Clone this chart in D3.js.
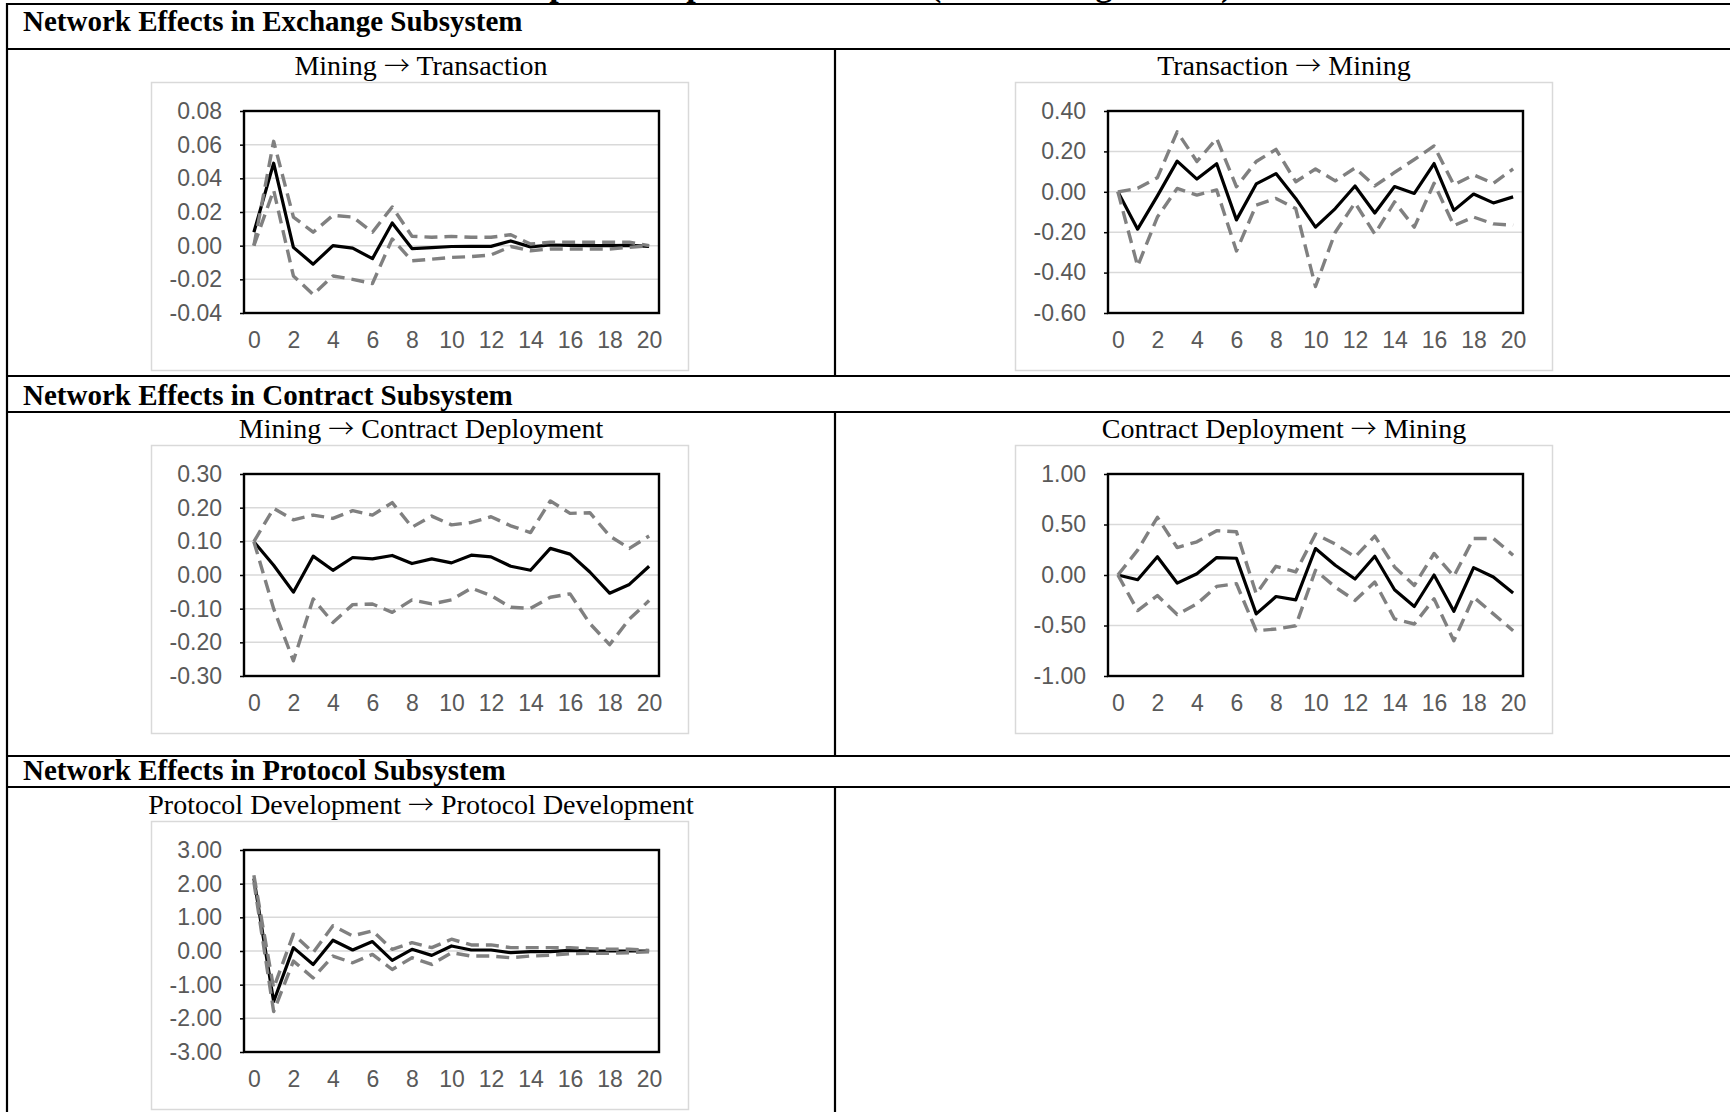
<!DOCTYPE html>
<html>
<head>
<meta charset="utf-8">
<script src="https://cdn.jsdelivr.net/npm/d3@7"></script>
<style>
  html, body { margin: 0; padding: 0; background: #fff; }
  svg { display: block; }
</style>
</head>
<body>
<svg id="fig" width="1730" height="1112"></svg>
<script>
// ---- Horizon (periods after the shock) ----
const periods = [0, 1, 2, 3, 4, 5, 6, 7, 8, 9, 10, 11, 12, 13, 14, 15, 16, 17, 18, 19, 20];
const periodTicks = [0, 2, 4, 6, 8, 10, 12, 14, 16, 18, 20];

// ---- Mining → Transaction ----
const mtxTicks  = [0.08, 0.06, 0.04, 0.02, 0, -0.02, -0.04];
const mtxLabels = ["0.08", "0.06", "0.04", "0.02", "0.00", "-0.02", "-0.04"];
const mtxIrf    = [0.008, 0.049, -0.001, -0.011, 0.000, -0.0015, -0.0077, 0.0135, -0.0017, -0.0012, -0.0005, -0.0004, -0.0004, 0.0028, -0.0007, 0.0004, 0.0002, 0.0000, 0.0000, 0.0002, -0.0004];
const mtxUpper  = [0.000, 0.062, 0.017, 0.008, 0.018, 0.017, 0.008, 0.023, 0.0056, 0.005, 0.0055, 0.005, 0.005, 0.0065, 0.001, 0.002, 0.002, 0.002, 0.002, 0.002, 0.000];
const mtxLower  = [0.000, 0.033, -0.018, -0.029, -0.018, -0.020, -0.0225, 0.004, -0.009, -0.008, -0.007, -0.0065, -0.0055, -0.0005, -0.003, -0.002, -0.002, -0.002, -0.002, -0.001, 0.000];

// ---- Transaction → Mining ----
const txmTicks  = [0.4, 0.2, 0, -0.2, -0.4, -0.6];
const txmLabels = ["0.40", "0.20", "0.00", "-0.20", "-0.40", "-0.60"];
const txmIrf    = [0.000, -0.185, -0.020, 0.152, 0.063, 0.139, -0.139, 0.039, 0.090, -0.033, -0.175, -0.083, 0.029, -0.105, 0.026, -0.008, 0.140, -0.092, -0.011, -0.055, -0.025];
const txmUpper  = [0.000, 0.017, 0.070, 0.297, 0.150, 0.264, 0.025, 0.150, 0.210, 0.050, 0.113, 0.054, 0.118, 0.029, 0.096, 0.160, 0.227, 0.034, 0.084, 0.042, 0.113];
const txmLower  = [0.000, -0.368, -0.125, 0.017, -0.016, 0.009, -0.293, -0.066, -0.033, -0.083, -0.469, -0.200, -0.055, -0.209, -0.050, -0.175, 0.042, -0.167, -0.125, -0.159, -0.165];

// ---- Mining → Contract Deployment ----
const mcdTicks  = [0.3, 0.2, 0.1, 0, -0.1, -0.2, -0.3];
const mcdLabels = ["0.30", "0.20", "0.10", "0.00", "-0.10", "-0.20", "-0.30"];
const mcdIrf    = [0.099, 0.029, -0.051, 0.056, 0.014, 0.052, 0.048, 0.058, 0.034, 0.048, 0.036, 0.059, 0.054, 0.026, 0.014, 0.079, 0.062, 0.009, -0.054, -0.028, 0.026];
const mcdUpper  = [0.099, 0.198, 0.164, 0.178, 0.168, 0.191, 0.178, 0.215, 0.142, 0.175, 0.149, 0.156, 0.173, 0.146, 0.126, 0.220, 0.183, 0.185, 0.116, 0.079, 0.116];
const mcdLower  = [0.099, -0.100, -0.255, -0.071, -0.141, -0.088, -0.086, -0.111, -0.074, -0.086, -0.074, -0.039, -0.061, -0.096, -0.099, -0.066, -0.056, -0.144, -0.207, -0.131, -0.076];

// ---- Contract Deployment → Mining ----
const cdmTicks  = [1, 0.5, 0, -0.5, -1];
const cdmLabels = ["1.00", "0.50", "0.00", "-0.50", "-1.00"];
const cdmIrf    = [0.000, -0.047, 0.180, -0.080, 0.013, 0.173, 0.166, -0.385, -0.213, -0.246, 0.262, 0.096, -0.040, 0.186, -0.146, -0.312, 0.000, -0.359, 0.073, -0.020, -0.179];
const cdmUpper  = [0.000, 0.246, 0.571, 0.272, 0.329, 0.439, 0.428, -0.186, 0.086, 0.030, 0.405, 0.306, 0.179, 0.385, 0.080, -0.103, 0.213, -0.013, 0.362, 0.362, 0.196];
const cdmLower  = [0.000, -0.352, -0.203, -0.392, -0.286, -0.113, -0.086, -0.552, -0.535, -0.502, 0.047, -0.120, -0.252, -0.070, -0.435, -0.485, -0.236, -0.651, -0.219, -0.385, -0.552];

// ---- Protocol Development → Protocol Development ----
const pdpTicks  = [3, 2, 1, 0, -1, -2, -3];
const pdpLabels = ["3.00", "2.00", "1.00", "0.00", "-1.00", "-2.00", "-3.00"];
const pdpIrf    = [2.15, -1.50, 0.10, -0.40, 0.32, 0.03, 0.28, -0.28, 0.05, -0.13, 0.15, 0.03, 0.03, -0.05, -0.02, -0.02, 0.02, 0.00, 0.00, 0.00, 0.00];
const pdpUpper  = [2.25, -1.10, 0.50, -0.05, 0.75, 0.45, 0.60, 0.05, 0.25, 0.10, 0.35, 0.18, 0.18, 0.10, 0.10, 0.10, 0.10, 0.07, 0.05, 0.05, 0.02];
const pdpLower  = [2.05, -1.80, -0.30, -0.80, -0.15, -0.35, -0.10, -0.55, -0.20, -0.40, -0.05, -0.15, -0.15, -0.20, -0.15, -0.13, -0.08, -0.07, -0.07, -0.05, -0.02];

// ---- Panel table: [shock variable, response variable] ----
const panels = [
  { from: "Mining", to: "Transaction", box: [151, 82], ticks: mtxTicks, labels: mtxLabels, irf: mtxIrf, upper: mtxUpper, lower: mtxLower, titleX: 421, titleY: 75 },
  { from: "Transaction", to: "Mining", box: [1015, 82], ticks: txmTicks, labels: txmLabels, irf: txmIrf, upper: txmUpper, lower: txmLower, titleX: 1284, titleY: 75 },
  { from: "Mining", to: "Contract Deployment", box: [151, 445], ticks: mcdTicks, labels: mcdLabels, irf: mcdIrf, upper: mcdUpper, lower: mcdLower, titleX: 421, titleY: 438 },
  { from: "Contract Deployment", to: "Mining", box: [1015, 445], ticks: cdmTicks, labels: cdmLabels, irf: cdmIrf, upper: cdmUpper, lower: cdmLower, titleX: 1284, titleY: 438 },
  { from: "Protocol Development", to: "Protocol Development", box: [151, 821], ticks: pdpTicks, labels: pdpLabels, irf: pdpIrf, upper: pdpUpper, lower: pdpLower, titleX: 421, titleY: 814 }
];

const sections = [
  { text: "Network Effects in Exchange Subsystem", y: 31 },
  { text: "Network Effects in Contract Subsystem", y: 405 },
  { text: "Network Effects in Protocol Subsystem", y: 780 }
];

const svg = d3.select("#fig");
const serif = "'Liberation Serif', 'Times New Roman', Times, serif";
const sans = "'Liberation Sans', Arial, Helvetica, sans-serif";
const arrowFont = "'Noto Sans CJK JP', 'DejaVu Sans', sans-serif";

// Document heading (runs above the top edge)
svg.append("text")
  .attr("x", 870).attr("y", -4)
  .attr("text-anchor", "middle")
  .style("font-family", serif).style("font-weight", "bold").style("font-size", "34px")
  .text("Impulse Response Functions (Reinforcing Effects)");

// ---- Table rules ----
const tableLeft = 7, tableRight = 1745, colSplit = 835;
const hRules = [4, 49, 376, 412, 756, 787];
svg.selectAll("line.hrule").data(hRules).join("line")
  .attr("class", "hrule")
  .attr("x1", tableLeft - 1).attr("x2", tableRight)
  .attr("y1", d => d).attr("y2", d => d)
  .attr("stroke", "#000").attr("stroke-width", 2.2);
svg.append("line")
  .attr("x1", tableLeft).attr("x2", tableLeft).attr("y1", 3).attr("y2", 1120)
  .attr("stroke", "#000").attr("stroke-width", 2.2);
[[49, 376], [412, 756], [787, 1120]].forEach(([a, b]) => {
  svg.append("line")
    .attr("x1", colSplit).attr("x2", colSplit).attr("y1", a).attr("y2", b)
    .attr("stroke", "#000").attr("stroke-width", 2.2);
});

svg.selectAll("text.section").data(sections).join("text")
  .attr("class", "section")
  .attr("x", 23).attr("y", d => d.y)
  .style("font-family", serif).style("font-weight", "bold").style("font-size", "29px")
  .text(d => d.text);

// ---- Charts ----
const boxW = 537, boxH = 288;
const plotL = 93, plotT = 29, plotW = 415, plotH = 202;

panels.forEach(p => {
  const t = svg.append("text")
    .attr("x", p.titleX).attr("y", p.titleY)
    .attr("text-anchor", "middle")
    .style("font-family", serif).style("font-size", "28px");
  t.append("tspan").text(p.from + " ");
  t.append("tspan").style("font-family", arrowFont).style("font-size", "26px").style("font-weight", 300).text("\u2192");
  t.append("tspan").text(" " + p.to);

  const g = svg.append("g").attr("transform", `translate(${p.box[0]},${p.box[1]})`);
  g.append("rect")
    .attr("x", 0.5).attr("y", 0.5).attr("width", boxW).attr("height", boxH)
    .attr("fill", "#fff").attr("stroke", "#d9d9d9").attr("stroke-width", 1.5);

  const x = d3.scalePoint().domain(periods).range([plotL, plotL + plotW]).padding(0.5);
  const y = d3.scaleLinear().domain(d3.extent(p.ticks)).range([plotT + plotH, plotT]);

  // horizontal gridlines
  g.selectAll("line.grid").data(p.ticks).join("line")
    .attr("class", "grid")
    .attr("x1", plotL).attr("x2", plotL + plotW)
    .attr("y1", d => y(d)).attr("y2", d => y(d))
    .attr("stroke", "#d9d9d9").attr("stroke-width", 1.5);

  // value axis
  const ya = g.append("g").attr("transform", `translate(${plotL},0)`)
    .call(d3.axisLeft(y).tickValues(p.ticks).tickSize(4).tickPadding(18)
      .tickFormat((d, i) => p.labels[i]));
  ya.select(".domain").remove();
  ya.selectAll("line").attr("stroke", "#000").attr("stroke-width", 1.5);
  ya.selectAll("text").attr("fill", "#595959")
    .style("font-family", sans).style("font-size", "23px");

  // period axis
  const xa = g.append("g").attr("transform", `translate(0,${plotT + plotH})`)
    .call(d3.axisBottom(x).tickValues(periodTicks).tickSize(0).tickPadding(19));
  xa.select(".domain").remove();
  xa.selectAll("text").attr("fill", "#595959")
    .style("font-family", sans).style("font-size", "23px");

  const line = d3.line().x((d, i) => x(periods[i])).y(d => y(d));

  g.append("path").datum(p.irf).attr("d", line)
    .attr("fill", "none").attr("stroke", "#000").attr("stroke-width", 3.2)
    .attr("stroke-linejoin", "round");
  [p.lower, p.upper].forEach(s => {
    g.append("path").datum(s).attr("d", line)
      .attr("fill", "none").attr("stroke", "#808080").attr("stroke-width", 3.4)
      .attr("stroke-dasharray", "13,7").attr("stroke-linejoin", "round");
  });

  // plot frame
  g.append("rect")
    .attr("x", plotL).attr("y", plotT).attr("width", plotW).attr("height", plotH)
    .attr("fill", "none").attr("stroke", "#000").attr("stroke-width", 2.4);
});
</script>
</body>
</html>
